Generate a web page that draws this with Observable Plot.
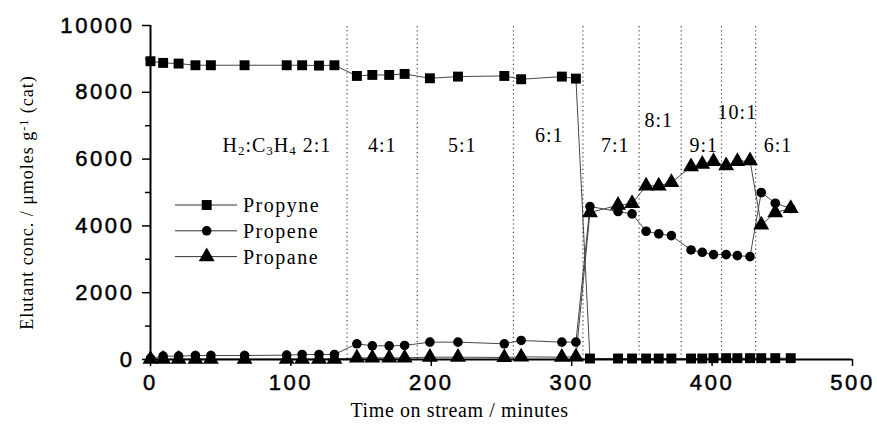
<!DOCTYPE html>
<html><head><meta charset="utf-8">
<script src="https://cdn.jsdelivr.net/npm/d3@7"></script>
<script src="https://cdn.jsdelivr.net/npm/@observablehq/plot@0.6"></script>
<style>
html,body{margin:0;padding:0;background:#fff;}
</style></head><body><div id="chart"></div>
<script>
const seriesNames = ["Propyne", "Propene", "Propane"];
const seriesSymbols = ["square", "circle", "triangle"];
const timesBefore = [0, 9, 20, 32, 43, 67, 97, 108, 120, 131, 147, 158, 170, 181, 199, 219, 252, 264, 293, 303];
const timesAfter = [313, 333, 343, 353, 362, 371, 385, 393, 401, 410, 418, 427, 435, 445, 456];
const propyne = [8930, 8880, 8860, 8810, 8810, 8810, 8810, 8810, 8800, 8810, 8490, 8520, 8520, 8550, 8420, 8470, 8490, 8390, 8470, 8410,
                 30, 30, 30, 30, 30, 30, 30, 30, 40, 40, 40, 40, 40, 40, 40];
const propene = [30, 100, 100, 120, 120, 120, 130, 150, 150, 150, 470, 410, 410, 420, 520, 520, 470, 570, 520, 520,
                 4580, 4430, 4360, 3840, 3760, 3710, 3280, 3210, 3140, 3140, 3110, 3080, 5000, 4680, 4520];
const propane = [10, 10, 10, 10, 10, 10, 10, 10, 10, 10, 50, 50, 50, 50, 70, 70, 60, 80, 70, 80,
                 4400, 4620, 4670, 5200, 5200, 5300, 5770, 5850, 5930, 5800, 5930, 5950, 4030, 4400, 4520];
const dividerTimes = [140, 190, 258.5, 308, 348, 378, 406.7, 431];
const ratioLabels = ["H₂:C₃H₄ 2:1", "4:1", "5:1", "6:1", "7:1", "8:1", "9:1", "10:1", "6:1"];
const ratioLabelTimes = [90, 165, 222, 284, 331, 362, 394, 418, 447];
const ratioLabelLevels = [6400, 6400, 6400, 6700, 6400, 7150, 6400, 7400, 6400];
const yMajorTicks = [0, 2000, 4000, 6000, 8000, 10000];
const yMinorTicks = [1000, 3000, 5000, 7000, 9000];
const xTicks = [0, 100, 200, 300, 400, 500];
const xLabel = "Time on stream / minutes";
const yLabel = "Elutant conc. / μmoles g⁻¹ (cat)";

const times = timesBefore.concat(timesAfter);
const seriesValues = [propyne, propene, propane];
const rows = [];
seriesValues.forEach((vals, i) => vals.forEach((v, j) => rows.push({series: seriesNames[i], time: times[j], value: v})));

const dotR = {Propyne: 5.6, Propene: 4.8, Propane: 5.9};
const serif = "Liberation Serif, Times New Roman, serif";
const sans = "Liberation Sans, Arial, sans-serif";
const plain = d => String(d);

const chart = Plot.plot({
  width: 877, height: 429,
  marginLeft: 150, marginRight: 25, marginTop: 25, marginBottom: 70,
  x: {domain: [0, 500]},
  y: {domain: [0, 10000]},
  style: {background: "#fff", color: "#000"},
  marks: [
    Plot.ruleX(dividerTimes, {y1: 0, y2: 10000, stroke: "#444", strokeDasharray: "1.2,3", strokeWidth: 1.2}),
    Plot.line(rows, {x: "time", y: "value", z: "series", stroke: "#333", strokeWidth: 0.9}),
    ...seriesNames.map((s, i) => Plot.dot(rows.filter(d => d.series === s), {x: "time", y: "value", symbol: () => seriesSymbols[i], fill: "#000", stroke: "none", r: dotR[s]})),
    Plot.axisY({ticks: yMajorTicks, tickFormat: plain, tickSize: 8, tickPadding: 8, fontSize: 22, fontFamily: sans, label: null, strokeWidth: 1.5}),
    Plot.axisY({ticks: yMinorTicks, tickSize: 5, text: null, label: null, strokeWidth: 1.5}),
    Plot.axisX({ticks: xTicks, tickFormat: plain, tickSize: 7, tickPadding: 8, fontSize: 22, fontFamily: sans, label: null, strokeWidth: 1.5}),
    Plot.ruleX([0], {y1: 0, y2: 10000, strokeWidth: 2}),
    Plot.ruleY([0], {x1: 0, x2: 500, strokeWidth: 2}),
    Plot.text(ratioLabels, {x: (d, i) => ratioLabelTimes[i], y: (d, i) => ratioLabelLevels[i], text: d => d, fontFamily: serif, fontSize: 20, fill: "#000"}),
    Plot.text([xLabel], {frameAnchor: "bottom", dx: -42, dy: 57, text: d => d, fontFamily: serif, fontSize: 20, fill: "#000"}),
    Plot.text([yLabel], {frameAnchor: "left", dx: -123, dy: 10, rotate: -90, textAnchor: "middle", text: d => d, fontFamily: serif, fontSize: 18, fill: "#000"})
  ]
});
document.getElementById("chart").appendChild(chart);

const svg = d3.select(chart);
svg.selectAll('g[aria-label="text"] text').style("letter-spacing", "1px");
svg.selectAll('g[aria-label$="tick label"] text').style("letter-spacing", "2.6px").style("stroke", "#000").style("stroke-width", "0.5px");

// subscripts / superscripts
svg.selectAll('g[aria-label="text"] text').each(function() {
  const t = d3.select(this);
  const s = t.text();
  if (s.includes("₂")) {
    t.text(null);
    const parts = [["H", 0], ["2", 1], [":C", 0], ["3", 1], ["H", 0], ["4", 1], [" 2:1", 0]];
    parts.forEach(([p, sub]) => {
      const ts = t.append("tspan").text(p);
      if (sub) ts.attr("baseline-shift", "-25%").attr("font-size", 13);
    });
  } else if (s.includes("⁻¹")) {
    t.text(null);
    t.append("tspan").text("Elutant conc. / μmoles g");
    t.append("tspan").text("-1").attr("baseline-shift", "40%").attr("font-size", 12);
    t.append("tspan").text(" (cat)");
  } else if (s === xLabel) {
    t.style("letter-spacing", "0.6px");
  }
});

// legend
const legend = svg.append("g").attr("font-family", serif).attr("font-size", 20).attr("text-anchor", "start");
seriesNames.forEach((s, i) => {
  const y = 205 + i * 25.8;
  legend.append("line").attr("x1", 175).attr("x2", 237).attr("y1", y).attr("y2", y).attr("stroke", "#333").attr("stroke-width", 1);
  const sym = {square: d3.symbolSquare, circle: d3.symbolCircle, triangle: d3.symbolTriangle}[seriesSymbols[i]];
  legend.append("path").attr("transform", `translate(206.7,${y})`).attr("d", d3.symbol(sym, Math.PI * dotR[s] * dotR[s])()).attr("fill", "#000");
  legend.append("text").attr("x", 243).attr("y", y).attr("dy", "0.35em").attr("text-anchor", "start").style("letter-spacing", "1.5px").text(s);
});
</script></body></html>
